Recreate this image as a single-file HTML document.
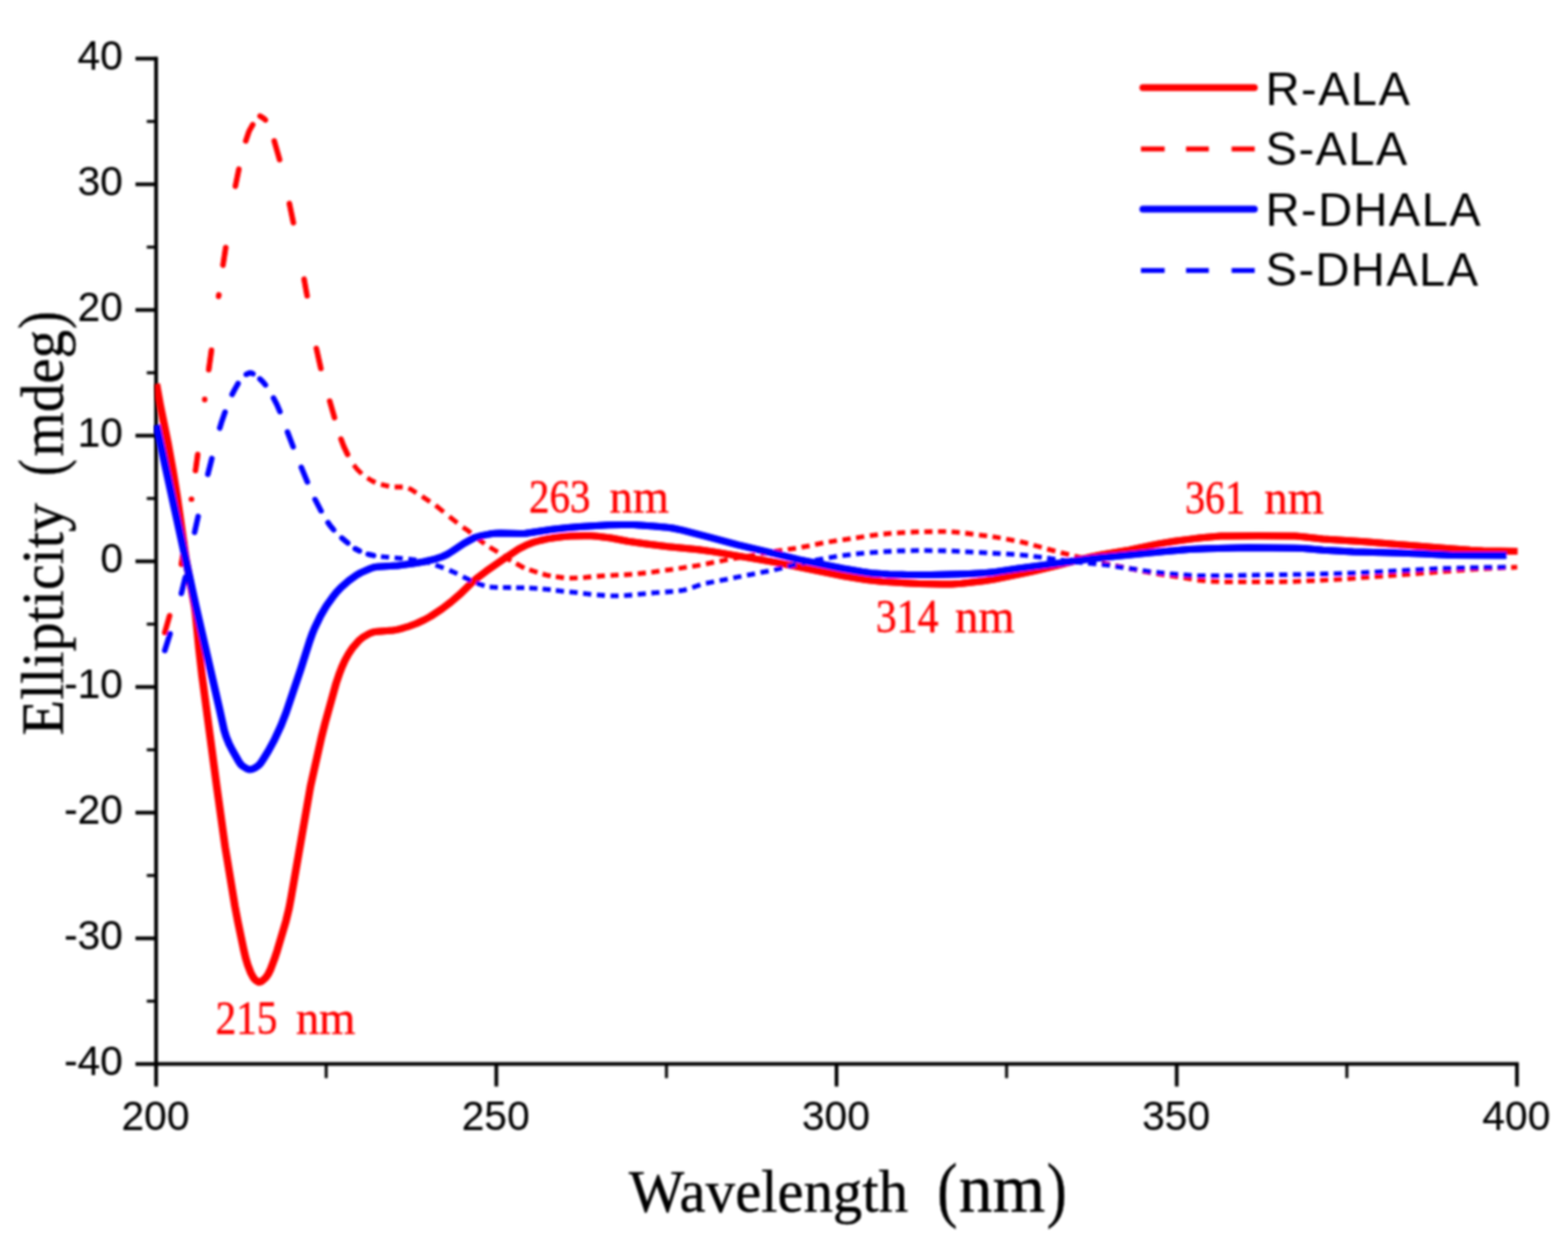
<!DOCTYPE html>
<html lang="en">
<head>
<meta charset="utf-8">
<title>CD spectra of R-ALA, S-ALA, R-DHALA and S-DHALA</title>
<style>
html,body{margin:0;padding:0;background:#fff;}
body{width:1597px;height:1266px;overflow:hidden;}
svg{display:block;}
.sans{font-family:"Liberation Sans","DejaVu Sans",sans-serif;}
.serif{font-family:"Liberation Serif","DejaVu Serif",serif;}
.tick{font-size:41.5px;fill:#000;stroke:#000;stroke-width:0.15px;}
.leg{font-size:48px;fill:#000;letter-spacing:1.4px;}
.ann{fill:#ff0000;stroke:#ff0000;stroke-width:0.45px;}
.axl{fill:#000;stroke:#000;stroke-width:0.4px;}
</style>
</head>
<body>
<svg width="1597" height="1266" viewBox="0 0 1597 1266">
<defs>
<filter id="softg" filterUnits="userSpaceOnUse" x="0" y="0" width="1597" height="1266"><feGaussianBlur stdDeviation="0.8"/></filter>
</defs>
<rect x="0" y="0" width="1597" height="1266" fill="#ffffff"/>

<g id="axes" stroke="#000" stroke-width="3.8" fill="none" stroke-linecap="butt" filter="url(#softg)">
<path d="M159.0,57.8 L159.0,1085.6"/>
<path d="M157.1,1083.7 L1546.9,1083.7"/>
<path d="M138.0,1083.7 L159.0,1083.7"/>
<path d="M149.5,1019.7 L159.0,1019.7" stroke-width="3"/>
<path d="M138.0,955.7 L159.0,955.7"/>
<path d="M149.5,891.7 L159.0,891.7" stroke-width="3"/>
<path d="M138.0,827.7 L159.0,827.7"/>
<path d="M149.5,763.7 L159.0,763.7" stroke-width="3"/>
<path d="M138.0,699.7 L159.0,699.7"/>
<path d="M149.5,635.7 L159.0,635.7" stroke-width="3"/>
<path d="M138.0,571.7 L159.0,571.7"/>
<path d="M149.5,507.7 L159.0,507.7" stroke-width="3"/>
<path d="M138.0,443.7 L159.0,443.7"/>
<path d="M149.5,379.7 L159.0,379.7" stroke-width="3"/>
<path d="M138.0,315.7 L159.0,315.7"/>
<path d="M149.5,251.7 L159.0,251.7" stroke-width="3"/>
<path d="M138.0,187.7 L159.0,187.7"/>
<path d="M149.5,123.7 L159.0,123.7" stroke-width="3"/>
<path d="M138.0,59.7 L159.0,59.7"/>
<path d="M159.0,1083.7 L159.0,1106.6"/>
<path d="M332.2,1083.7 L332.2,1098.1" stroke-width="3"/>
<path d="M505.5,1083.7 L505.5,1106.6"/>
<path d="M678.8,1083.7 L678.8,1098.1" stroke-width="3"/>
<path d="M852.0,1083.7 L852.0,1106.6"/>
<path d="M1025.2,1083.7 L1025.2,1098.1" stroke-width="3"/>
<path d="M1198.5,1083.7 L1198.5,1106.6"/>
<path d="M1371.8,1083.7 L1371.8,1098.1" stroke-width="3"/>
<path d="M1545.0,1083.7 L1545.0,1106.6"/>
</g>
<g class="gfx" filter="url(#softg)">
<defs><clipPath id="plotclip"><rect x="157.8" y="0" width="1440" height="1266"/></clipPath></defs>
<g id="curves" fill="none" stroke-linejoin="round" clip-path="url(#plotclip)">
<path id="rala" d="M159.3,391.0 L163.3,413.5 L171.3,452.8 L176.3,480.7 L180.3,505.4 L189.3,568.8 L198.3,618.0 L199.3,625.8 L202.6,660.0 L205.8,688.3 L220.8,801.3 L229.3,862.5 L239.3,923.1 L242.3,938.9 L248.3,967.6 L250.3,976.1 L252.3,982.8 L255.3,990.6 L258.3,996.1 L259.3,997.3 L261.3,999.0 L263.3,1000.2 L264.3,1000.3 L266.3,999.6 L270.3,996.2 L273.3,991.9 L275.3,987.9 L279.3,977.3 L282.3,968.3 L291.3,937.9 L294.3,925.6 L296.3,915.2 L316.3,800.5 L327.3,751.4 L331.3,735.6 L342.3,696.0 L345.3,687.1 L348.3,679.2 L351.3,672.6 L355.3,665.4 L359.3,659.6 L365.3,652.7 L369.3,649.3 L376.3,645.2 L379.3,644.1 L381.3,643.6 L400.3,642.0 L404.3,641.4 L408.3,640.4 L416.3,638.0 L424.3,635.0 L432.3,631.3 L438.3,628.0 L450.3,620.0 L459.3,613.1 L469.3,604.5 L481.3,592.7 L487.3,587.7 L495.3,581.7 L513.3,569.2 L528.3,559.2 L535.3,555.6 L542.3,552.7 L550.3,550.5 L557.3,548.9 L564.3,547.8 L574.3,546.6 L581.3,546.1 L595.3,545.8 L602.3,545.8 L608.3,546.3 L622.3,548.0 L639.3,551.3 L658.3,554.0 L680.3,556.7 L711.3,559.8 L726.3,561.9 L789.3,572.6 L859.3,586.7 L882.3,590.5 L898.3,592.2 L918.3,593.6 L936.3,594.5 L959.3,595.1 L969.3,594.9 L979.3,594.2 L1001.3,591.7 L1012.3,590.1 L1038.3,584.9 L1052.3,581.8 L1077.3,575.8 L1100.3,569.8 L1111.3,567.1 L1122.3,565.0 L1150.3,560.1 L1180.3,553.9 L1196.3,551.3 L1212.3,549.1 L1223.3,547.8 L1243.3,546.1 L1250.3,545.9 L1281.3,545.7 L1319.3,546.0 L1327.3,546.7 L1347.3,548.9 L1390.3,551.8 L1473.3,558.5 L1497.3,560.3 L1510.3,560.9 L1545.3,561.4" stroke="#ff0000" stroke-width="7.0" stroke-linecap="butt" transform="translate(-0.4,0)"/>
<use href="#rala" transform="translate(0.8,0)"/>
<path id="sala" d="M167.8,644.4 L172.7,627.1 M184.7,574.8 L188.3,553.0 M195.0,508.5 L195.0,508.3 M199.1,479.5 L201.4,462.9 M208.5,406.9 L208.5,406.7 M212.6,376.7 L215.4,356.6 M222.6,301.9 L222.9,300.2 M227.1,270.1 L229.9,252.0 M239.7,189.8 L243.3,172.2 M250.3,143.6 L253.5,134.2 L255.0,131.2 L257.5,126.9 M264.9,118.2 L268.5,120.5 L270.3,122.2 M279.3,143.5 L284.8,162.7 M294.7,207.2 L298.8,226.9 M309.7,284.2 L312.8,301.4 M322.2,354.8 L326.8,375.4 M335.8,408.4 L340.7,425.5 M347.3,447.2 L350.0,454.3 L354.0,462.8" stroke="#ff0000" stroke-width="5.2" stroke-linecap="round" transform="translate(-0.2,0)"/>
<use href="#sala" transform="translate(0.4,0)"/>
<path d="M360.2,473.5 L364.0,478.2 L368.5,482.6 M374.1,486.8 L378.5,489.5 L382.4,491.5 M388.0,493.4 L396.3,495.4 M401.9,496.0 L410.2,496.0 M415.9,497.2 L418.0,498.1 L424.1,502.1 M429.8,505.4 L438.0,511.0 M443.6,514.7 L451.9,521.5 M457.6,526.2 L465.8,532.7 M471.4,537.0 L476.5,540.3 L479.7,542.9 M485.2,547.5 L493.5,553.8 M498.7,557.3 L507.0,562.3 M512.2,565.8 L520.5,571.3 M525.7,573.8 L534.0,578.6 M539.1,580.3 L547.4,583.0 M552.6,584.7 L557.0,585.8 L560.9,586.6 M566.1,587.4 L574.4,588.5 M580.0,588.9 L588.3,588.7 M593.9,588.3 L602.2,587.5 M607.9,587.0 L616.1,586.3 M621.8,586.1 L630.0,585.7 M635.6,585.5 L643.9,584.9 M649.5,584.4 L657.8,583.5 M663.4,582.8 L671.7,581.7 M677.4,580.9 L685.6,579.8 M691.2,579.0 L699.5,577.7 M705.1,576.8 L713.4,575.5 M719.0,574.4 L727.3,572.7 M732.9,571.6 L741.2,570.0 M746.9,569.0 L755.1,567.6 M760.8,566.6 L769.0,565.2 M774.6,564.1 L782.9,562.6 M788.5,561.6 L796.8,560.3 M802.4,559.6 L810.7,558.4 M816.4,557.4 L824.6,555.8 M830.2,554.6 L838.5,552.9 M844.1,552.0 L852.4,550.7 M858.1,549.9 L866.4,548.7 M871.9,547.8 L880.2,546.5 M885.9,545.7 L894.1,544.7 M899.8,544.0 L908.0,543.2 M913.6,542.8 L921.9,542.3 M927.6,542.0 L935.9,541.7 M941.4,541.6 L949.7,541.5 M955.4,541.4 L963.6,541.4 M969.2,541.6 L977.5,542.3 M983.1,543.0 L991.4,544.1 M997.1,544.8 L1005.4,545.9 M1010.9,546.7 L1019.2,548.0 M1024.8,549.0 L1033.2,550.6 M1038.8,551.7 L1047.1,553.7 M1052.6,555.2 L1061.0,557.5 M1066.5,559.1 L1074.9,561.4 M1080.4,562.8 L1088.8,564.9 M1094.3,566.3 L1102.7,568.4 M1108.2,569.8 L1116.6,571.9 M1122.1,573.3 L1130.5,575.1 M1136.0,576.2 L1144.3,577.8 M1149.9,578.9 L1158.2,580.6 M1163.8,581.8 L1172.2,583.4 M1177.8,584.4 L1186.1,585.6 M1191.6,586.4 L1200.0,587.6 M1205.5,588.5 L1213.8,590.0 M1219.4,590.8 L1227.8,591.6 M1233.3,592.0 L1241.7,592.4 M1247.2,592.6 L1255.6,592.6 M1261.1,592.6 L1269.5,592.6 M1275.0,592.6 L1283.3,592.6 M1288.9,592.6 L1297.2,592.6 M1302.8,592.6 L1311.2,592.4 M1316.8,592.3 L1325.1,591.9 M1330.6,591.7 L1339.0,591.3 M1344.5,591.1 L1352.8,590.7 M1358.4,590.4 L1366.8,589.8 M1372.3,589.5 L1380.7,588.9 M1386.2,588.4 L1394.6,587.8 M1400.1,587.4 L1408.5,586.9 M1414.0,586.4 L1422.3,585.8 M1427.9,585.4 L1436.2,584.8 M1441.8,584.4 L1450.2,583.7 M1455.8,583.3 L1464.1,582.7 M1469.6,582.2 L1478.0,581.6 M1483.5,581.2 L1491.8,580.6 M1497.4,580.2 L1505.8,579.7 M1511.3,579.4 L1519.7,578.9 M1525.2,578.6 L1533.6,578.2 M1539.1,578.0 L1545.3,577.7" stroke="#ff0000" stroke-width="4.8" stroke-linecap="butt"/>
<path id="rdhala" d="M159.3,433.0 L199.3,616.6 L223.3,721.0 L228.3,743.7 L230.3,750.2 L233.3,757.6 L236.3,763.5 L243.3,775.8 L245.3,778.6 L247.3,780.4 L251.3,782.9 L254.3,783.8 L256.3,783.6 L259.3,782.3 L263.3,779.6 L265.3,777.5 L267.3,774.6 L273.3,764.9 L279.3,753.9 L286.3,738.8 L291.3,726.0 L306.3,681.6 L315.3,653.2 L318.3,644.8 L320.3,640.0 L326.3,627.6 L332.3,617.3 L339.3,607.4 L343.3,602.6 L347.3,598.3 L355.3,591.3 L362.3,586.3 L367.3,583.4 L377.3,579.0 L381.3,577.7 L384.3,577.2 L405.3,575.9 L420.3,574.1 L432.3,572.0 L443.3,569.3 L450.3,567.0 L455.3,564.7 L460.3,561.6 L472.3,553.6 L482.3,548.1 L484.3,547.3 L490.3,545.7 L499.3,543.8 L504.3,543.2 L509.3,542.9 L529.3,543.4 L535.3,543.3 L562.3,539.3 L578.3,537.4 L590.3,536.4 L619.3,534.7 L633.3,534.4 L645.3,534.6 L659.3,535.4 L677.3,536.9 L685.3,538.0 L695.3,540.1 L722.3,547.1 L751.3,554.9 L789.3,563.8 L813.3,569.9 L858.3,579.0 L877.3,582.3 L887.3,583.7 L905.3,584.9 L924.3,585.4 L948.3,585.5 L987.3,584.4 L1004.3,583.6 L1014.3,582.4 L1037.3,578.9 L1114.3,568.7 L1184.3,561.7 L1211.3,559.6 L1230.3,558.7 L1271.3,557.7 L1318.3,558.2 L1327.3,558.6 L1347.3,560.2 L1378.3,561.9 L1448.3,563.9 L1478.3,565.6 L1534.0,565.7" stroke="#0000ff" stroke-width="7.0" stroke-linecap="butt" transform="translate(-0.4,0)"/>
<use href="#rdhala" transform="translate(0.8,0)"/>
<path id="sdhala" d="M167.8,662.6 L173.2,645.5 M184.7,604.5 L188.8,587.8 M198.2,542.3 L201.8,526.0 M211.7,483.1 L215.8,466.9 M223.8,436.0 L226.0,428.8 L229.2,419.7 M236.4,401.8 L239.0,396.7 L242.5,390.6 M250.8,381.4 L253.0,380.2 L254.5,379.8 L256.0,380.0 L257.7,380.7 M264.7,385.9 L268.0,389.2 L270.4,392.1 M278.5,405.2 L282.0,412.0 L285.1,419.3 M292.8,440.0 L298.6,455.1 M306.9,475.9 L313.1,490.9 M320.9,508.6 L327.0,520.4 M334.1,532.3 L336.5,535.7 L339.8,539.7 M348.2,548.0 L354.2,553.1 M361.8,558.9 L366.1,561.1 M375.0,564.5 L380.5,565.8" stroke="#0000ff" stroke-width="5.2" stroke-linecap="round" transform="translate(-0.2,0)"/>
<use href="#sdhala" transform="translate(0.4,0)"/>
<path d="M388.0,566.8 L396.3,567.7 M401.9,568.2 L410.2,568.9 M415.9,569.4 L424.1,570.4 M429.8,571.4 L438.0,573.5 M443.6,575.5 L451.9,578.6 M457.6,580.7 L465.8,584.4 M471.4,587.3 L479.7,591.4 M485.2,593.8 L493.5,596.7 M498.7,597.9 L507.0,598.3 M512.2,598.4 L520.5,598.5 M525.7,598.6 L534.0,598.7 M539.1,598.9 L547.4,599.3 M552.6,599.8 L560.9,600.7 M566.1,601.4 L574.4,602.3 M580.0,602.8 L588.3,603.7 M593.9,604.4 L602.2,605.3 M607.9,605.9 L616.1,606.5 M621.8,606.8 L630.0,606.9 M635.6,606.6 L643.9,606.0 M649.5,605.4 L657.8,604.6 M663.4,604.0 L671.7,603.4 M677.4,603.0 L685.6,602.4 M691.2,601.9 L696.0,601.2 L699.5,600.4 M705.1,598.4 L713.4,595.5 M719.0,594.1 L727.3,592.5 M732.9,591.4 L741.2,589.8 M746.9,588.7 L755.1,587.0 M760.8,585.9 L769.0,584.3 M774.6,583.2 L782.9,581.6 M788.5,580.5 L796.8,578.5 M802.4,577.0 L810.7,574.9 M816.4,573.6 L824.6,571.8 M830.2,570.7 L838.5,569.1 M844.1,568.1 L852.4,566.7 M858.1,565.9 L866.4,564.8 M871.9,564.2 L880.2,563.4 M885.9,562.9 L894.1,562.3 M899.8,561.9 L908.0,561.5 M913.6,561.2 L921.9,561.0 M927.6,560.8 L935.9,560.7 M941.4,560.7 L949.7,560.8 M955.4,560.9 L963.6,561.0 M969.2,561.2 L977.5,561.6 M983.1,561.9 L991.4,562.4 M997.1,562.7 L1005.4,563.2 M1010.9,563.5 L1019.2,563.9 M1024.8,564.2 L1033.2,564.7 M1038.8,565.1 L1047.1,565.9 M1052.6,566.6 L1061.0,567.7 M1066.5,568.5 L1074.9,569.6 M1080.4,570.3 L1088.8,571.4 M1094.3,572.1 L1102.7,573.0 M1108.2,573.5 L1116.6,574.3 M1122.1,574.9 L1130.5,575.9 M1136.0,576.8 L1144.3,578.1 M1149.9,578.9 L1158.2,580.2 M1163.8,581.1 L1172.2,582.3 M1177.8,582.9 L1186.1,583.9 M1191.6,584.4 L1200.0,585.1 M1205.5,585.5 L1213.8,586.1 M1219.4,586.3 L1227.8,586.4 M1233.3,586.4 L1241.7,586.4 M1247.2,586.4 L1255.6,586.3 M1261.1,586.2 L1269.5,586.0 M1275.0,585.9 L1283.3,585.7 M1288.9,585.6 L1297.2,585.5 M1302.8,585.4 L1311.2,585.3 M1316.8,585.2 L1325.1,585.1 M1330.6,585.0 L1339.0,584.8 M1344.5,584.7 L1352.8,584.5 M1358.4,584.3 L1366.8,584.1 M1372.3,583.9 L1380.7,583.6 M1386.2,583.4 L1394.6,582.9 M1400.1,582.6 L1408.5,582.2 M1414.0,581.9 L1422.3,581.4 M1427.9,581.1 L1436.2,580.7 M1441.8,580.4 L1450.2,579.9 M1455.8,579.6 L1464.1,579.2 M1469.6,579.0 L1478.0,578.8 M1483.5,578.6 L1491.8,578.4 M1497.4,578.2 L1505.8,578.1 M1511.3,577.9 L1519.7,577.8 M1525.2,577.8 L1533.6,577.7" stroke="#0000ff" stroke-width="4.8" stroke-linecap="butt"/>
</g>
</g>
<g class="txt" filter="url(#softg)">
<g id="ticklabels" class="sans tick">
<text transform="translate(125.2,1094.7) scale(1,1.03)" text-anchor="end">-40</text>
<text transform="translate(125.2,966.7) scale(1,1.03)" text-anchor="end">-30</text>
<text transform="translate(125.2,838.7) scale(1,1.03)" text-anchor="end">-20</text>
<text transform="translate(125.2,710.7) scale(1,1.03)" text-anchor="end">-10</text>
<text transform="translate(125.2,582.7) scale(1,1.03)" text-anchor="end">0</text>
<text transform="translate(125.2,454.7) scale(1,1.03)" text-anchor="end">10</text>
<text transform="translate(125.2,326.7) scale(1,1.03)" text-anchor="end">20</text>
<text transform="translate(125.2,198.7) scale(1,1.03)" text-anchor="end">30</text>
<text transform="translate(125.2,70.7) scale(1,1.03)" text-anchor="end">40</text>
<text transform="translate(158.4,1151.3) scale(1,1.03)" text-anchor="middle">200</text>
<text transform="translate(504.9,1151.3) scale(1,1.03)" text-anchor="middle">250</text>
<text transform="translate(851.4,1151.3) scale(1,1.03)" text-anchor="middle">300</text>
<text transform="translate(1197.9,1151.3) scale(1,1.03)" text-anchor="middle">350</text>
<text transform="translate(1544.4,1151.3) scale(1,1.03)" text-anchor="middle">400</text>
</g>
<text class="serif axl"><tspan x="640.4" y="1234.2" font-size="61" textLength="284.5" lengthAdjust="spacingAndGlyphs">Wavelength</tspan> <tspan x="954.4" y="1235.5" font-size="74" textLength="20.6" lengthAdjust="spacingAndGlyphs">(</tspan><tspan x="976.6" y="1234.2" font-size="70" textLength="88.0" lengthAdjust="spacingAndGlyphs">nm</tspan><tspan x="1066.0" y="1235.5" font-size="74" textLength="20.6" lengthAdjust="spacingAndGlyphs">)</tspan></text>
<text class="serif axl" transform="rotate(-90)"><tspan x="-749.0" y="63.5" font-size="61" textLength="236.7" lengthAdjust="spacingAndGlyphs">Ellipticity</tspan> <tspan x="-484.8" y="64.0" font-size="66" textLength="17.0" lengthAdjust="spacingAndGlyphs">(</tspan><tspan x="-465.0" y="63.5" font-size="61" textLength="129.0" lengthAdjust="spacingAndGlyphs">mdeg</tspan><tspan x="-335.0" y="64.0" font-size="66" textLength="18.0" lengthAdjust="spacingAndGlyphs">)</tspan></text>
<g id="annotations" class="serif ann">
<text><tspan x="219.4" y="1052.6" font-size="48" textLength="63.3" lengthAdjust="spacingAndGlyphs">215</tspan> <tspan x="301.4" y="1052.6" font-size="48" textLength="60.6" lengthAdjust="spacingAndGlyphs">nm</tspan></text>
<text><tspan x="538.8" y="522.0" font-size="48" textLength="62.6" lengthAdjust="spacingAndGlyphs">263</tspan> <tspan x="620.8" y="522.0" font-size="48" textLength="60.6" lengthAdjust="spacingAndGlyphs">nm</tspan></text>
<text><tspan x="891.9" y="644.3" font-size="48" textLength="63.9" lengthAdjust="spacingAndGlyphs">314</tspan> <tspan x="972.7" y="644.3" font-size="48" textLength="60.6" lengthAdjust="spacingAndGlyphs">nm</tspan></text>
<text><tspan x="1206.9" y="522.6" font-size="48" textLength="61.4" lengthAdjust="spacingAndGlyphs">361</tspan> <tspan x="1287.7" y="522.6" font-size="48" textLength="60.6" lengthAdjust="spacingAndGlyphs">nm</tspan></text>
</g>
<g id="legendtext">
<text class="sans leg" x="1289" y="107.0">R-ALA</text>
<text class="sans leg" x="1289" y="168.3">S-ALA</text>
<text class="sans leg" x="1289" y="229.9">R-DHALA</text>
<text class="sans leg" x="1289" y="291.1">S-DHALA</text>
</g>
</g>
<g id="legend" class="gfx" fill="none" filter="url(#softg)">
<path d="M1164,89.2 L1277.5,89.2" stroke="#ff0000" stroke-width="7" stroke-linecap="round"/>
<path d="M1162,151.7 h24.2 M1208,151.7 h23.2 M1254.4,151.7 h23.5" stroke="#ff0000" stroke-width="5" stroke-linecap="butt"/>
<path d="M1164,212.9 L1277.5,212.9" stroke="#0000ff" stroke-width="7" stroke-linecap="round"/>
<path d="M1162,275.4 h24.2 M1208,275.4 h23.2 M1254.4,275.4 h23.5" stroke="#0000ff" stroke-width="5" stroke-linecap="butt"/>
</g>
</svg>
</body>
</html>
